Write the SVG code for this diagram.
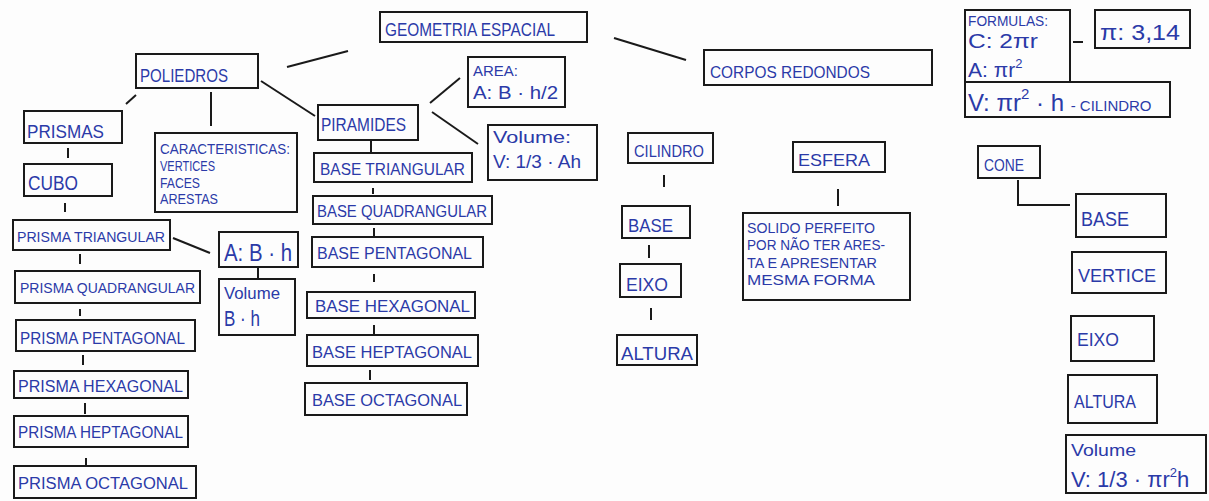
<svg xmlns="http://www.w3.org/2000/svg" width="1209" height="501" viewBox="0 0 1209 501">
<style>
.b{fill:none;stroke:#1a1a1a;stroke-width:2}
.c{stroke:#1a1a1a;stroke-width:2;fill:none}
text{font-family:"Liberation Sans","DejaVu Sans",sans-serif;fill:#2b3aa8}
</style>
<rect width="1209" height="501" fill="#fdfdfd"/>
<g id="connectors">
<line class="c" x1="287" y1="67" x2="348" y2="51"/>
<line class="c" x1="614" y1="38" x2="686" y2="60"/>
<line class="c" x1="136" y1="95" x2="126" y2="104" stroke-width="3"/>
<line class="c" x1="211" y1="92" x2="211" y2="126"/>
<line class="c" x1="261" y1="81" x2="315" y2="116"/>
<line class="c" x1="430" y1="103" x2="460" y2="78" stroke-width="3"/>
<line class="c" x1="432" y1="112" x2="478" y2="144"/>
<line class="c" x1="664" y1="175" x2="664" y2="187"/>
<line class="c" x1="649" y1="245" x2="649" y2="258"/>
<line class="c" x1="651" y1="308" x2="651" y2="320"/>
<line class="c" x1="838" y1="189" x2="838" y2="206"/>
<line class="c" x1="1073" y1="42" x2="1083" y2="42"/>
<polyline class="c" points="1018,180 1018,205 1070,205"/>
<line class="c" x1="68" y1="148" x2="68" y2="158"/>
<line class="c" x1="65" y1="203" x2="65" y2="212"/>
<line class="c" x1="173" y1="238" x2="210" y2="253"/>
<line class="c" x1="258" y1="267" x2="258" y2="279"/>
<line class="c" x1="80" y1="254" x2="80" y2="264"/>
<line class="c" x1="80" y1="309" x2="80" y2="316"/>
<line class="c" x1="83" y1="355" x2="83" y2="365"/>
<line class="c" x1="85" y1="403" x2="85" y2="414"/>
<line class="c" x1="86" y1="458" x2="86" y2="466"/>
<line class="c" x1="371" y1="141" x2="371" y2="152"/>
<line class="c" x1="373" y1="188" x2="373" y2="194"/>
<line class="c" x1="374" y1="228" x2="374" y2="236"/>
<line class="c" x1="374" y1="274" x2="374" y2="282"/>
<line class="c" x1="374" y1="325" x2="374" y2="334"/>
<line class="c" x1="370" y1="370" x2="370" y2="380"/>
</g>
<g id="geometria"><rect class="b" x="380" y="12" width="207" height="30"/><text x="385" y="36" font-size="18" textLength="170" lengthAdjust="spacingAndGlyphs">GEOMETRIA ESPACIAL</text></g>
<g id="poliedros"><rect class="b" x="136" y="54" width="122" height="34"/><text x="140" y="82" font-size="19" textLength="88" lengthAdjust="spacingAndGlyphs">POLIEDROS</text></g>
<g id="corpos"><rect class="b" x="704" y="50" width="228" height="35"/><text x="710" y="78" font-size="17" textLength="160" lengthAdjust="spacingAndGlyphs">CORPOS REDONDOS</text></g>
<g id="prismas"><rect class="b" x="24" y="111" width="98" height="32"/><text x="27" y="138" font-size="19" textLength="77" lengthAdjust="spacingAndGlyphs">PRISMAS</text></g>
<g id="cubo"><rect class="b" x="24" y="164" width="88" height="32"/><text x="28" y="190" font-size="20" textLength="50" lengthAdjust="spacingAndGlyphs">CUBO</text></g>
<g id="caracteristicas"><rect class="b" x="155" y="133" width="142" height="79"/>
<text x="160" y="154" font-size="14" textLength="130" lengthAdjust="spacingAndGlyphs">CARACTERISTICAS:</text>
<text x="160" y="171" font-size="14" textLength="55" lengthAdjust="spacingAndGlyphs">VERTICES</text>
<text x="160" y="188" font-size="14" textLength="40" lengthAdjust="spacingAndGlyphs">FACES</text>
<text x="160" y="204" font-size="14" textLength="58" lengthAdjust="spacingAndGlyphs">ARESTAS</text></g>
<g id="piramides"><rect class="b" x="318" y="105" width="100" height="35"/><text x="321" y="131" font-size="18" textLength="85" lengthAdjust="spacingAndGlyphs">PIRAMIDES</text></g>
<g id="area"><rect class="b" x="468" y="57" width="97" height="50"/>
<text x="473" y="76" font-size="15" textLength="45" lengthAdjust="spacingAndGlyphs">AREA:</text>
<text x="473" y="99" font-size="19" textLength="85" lengthAdjust="spacingAndGlyphs">A: B · h/2</text></g>
<g id="volume-piramide"><rect class="b" x="488" y="125" width="109" height="55"/>
<text x="493" y="143" font-size="16" textLength="78" lengthAdjust="spacingAndGlyphs">Volume:</text>
<text x="493" y="168" font-size="19" textLength="88" lengthAdjust="spacingAndGlyphs">V: 1/3 · Ah</text></g>
<g id="cilindro"><rect class="b" x="628" y="133" width="85" height="30"/><text x="634" y="157" font-size="16" textLength="70" lengthAdjust="spacingAndGlyphs">CILINDRO</text></g>
<g id="cil-base"><rect class="b" x="622" y="206" width="68" height="32"/><text x="628" y="232" font-size="19" textLength="45" lengthAdjust="spacingAndGlyphs">BASE</text></g>
<g id="cil-eixo"><rect class="b" x="620" y="264" width="61" height="33"/><text x="626" y="291" font-size="18" textLength="42" lengthAdjust="spacingAndGlyphs">EIXO</text></g>
<g id="cil-altura"><rect class="b" x="617" y="335" width="80" height="30"/><text x="621" y="360" font-size="18" textLength="72" lengthAdjust="spacingAndGlyphs">ALTURA</text></g>
<g id="esfera"><rect class="b" x="793" y="142" width="92" height="30"/><text x="798" y="166" font-size="17" textLength="72" lengthAdjust="spacingAndGlyphs">ESFERA</text></g>
<g id="solido"><rect class="b" x="743" y="213" width="167" height="87"/>
<text x="747" y="233" font-size="14" textLength="128" lengthAdjust="spacingAndGlyphs">SOLIDO PERFEITO</text>
<text x="747" y="250" font-size="14" textLength="138" lengthAdjust="spacingAndGlyphs">POR NÃO TER ARES-</text>
<text x="747" y="268" font-size="14" textLength="130" lengthAdjust="spacingAndGlyphs">TA E APRESENTAR</text>
<text x="747" y="285" font-size="14" textLength="128" lengthAdjust="spacingAndGlyphs">MESMA FORMA</text></g>
<g id="formulas"><rect class="b" x="965" y="10" width="105" height="72"/><rect class="b" x="965" y="82" width="205" height="35"/>
<text x="968" y="26" font-size="14" textLength="80" lengthAdjust="spacingAndGlyphs">FORMULAS:</text>
<text x="968" y="48" font-size="20" textLength="70" lengthAdjust="spacingAndGlyphs">C: 2πr</text>
<text x="968" y="77" font-size="21">A: πr<tspan font-size="13" dy="-9">2</tspan></text>
<text x="968" y="111" font-size="24">V: πr<tspan font-size="15" dy="-12">2</tspan><tspan dy="12"> · h </tspan><tspan font-size="15">- CILINDRO</tspan></text></g>
<g id="pi"><rect class="b" x="1095" y="10" width="95" height="38"/><text x="1100" y="40" font-size="22" textLength="80" lengthAdjust="spacingAndGlyphs">π: 3,14</text></g>
<g id="cone"><rect class="b" x="978" y="146" width="62" height="32"/><text x="984" y="171" font-size="17" textLength="40" lengthAdjust="spacingAndGlyphs">CONE</text></g>
<g id="cone-base"><rect class="b" x="1076" y="194" width="90" height="43"/><text x="1081" y="226" font-size="21" textLength="48" lengthAdjust="spacingAndGlyphs">BASE</text></g>
<g id="cone-vertice"><rect class="b" x="1072" y="252" width="94" height="41"/><text x="1078" y="282" font-size="18" textLength="78" lengthAdjust="spacingAndGlyphs">VERTICE</text></g>
<g id="cone-eixo"><rect class="b" x="1071" y="316" width="83" height="45"/><text x="1077" y="346" font-size="18" textLength="42" lengthAdjust="spacingAndGlyphs">EIXO</text></g>
<g id="cone-altura"><rect class="b" x="1068" y="375" width="89" height="48"/><text x="1074" y="408" font-size="19" textLength="62" lengthAdjust="spacingAndGlyphs">ALTURA</text></g>
<g id="cone-volume"><rect class="b" x="1066" y="435" width="140" height="58"/>
<text x="1071" y="456" font-size="17" textLength="65" lengthAdjust="spacingAndGlyphs">Volume</text>
<text x="1071" y="487" font-size="22">V: 1/3 · πr<tspan font-size="13" dy="-10">2</tspan><tspan dy="10">h</tspan></text></g>
<g id="prisma-triangular"><rect class="b" x="13" y="220" width="157" height="30"/><text x="17" y="242" font-size="15" textLength="148" lengthAdjust="spacingAndGlyphs">PRISMA TRIANGULAR</text></g>
<g id="area-prisma"><rect class="b" x="219" y="232" width="79" height="35"/><text x="224" y="261" font-size="23" textLength="68" lengthAdjust="spacingAndGlyphs">A: B · h</text></g>
<g id="volume-prisma"><rect class="b" x="219" y="279" width="76" height="56"/>
<text x="224" y="299" font-size="17" textLength="56" lengthAdjust="spacingAndGlyphs">Volume</text>
<text x="224" y="326" font-size="22" textLength="36" lengthAdjust="spacingAndGlyphs">B · h</text></g>
<g id="prisma-quadrangular"><rect class="b" x="15" y="271" width="185" height="32"/><text x="20" y="293" font-size="15" textLength="175" lengthAdjust="spacingAndGlyphs">PRISMA QUADRANGULAR</text></g>
<g id="prisma-pentagonal"><rect class="b" x="16" y="320" width="179" height="31"/><text x="20" y="344" font-size="16" textLength="165" lengthAdjust="spacingAndGlyphs">PRISMA PENTAGONAL</text></g>
<g id="prisma-hexagonal"><rect class="b" x="14" y="371" width="174" height="27"/><text x="18" y="392" font-size="16" textLength="165" lengthAdjust="spacingAndGlyphs">PRISMA HEXAGONAL</text></g>
<g id="prisma-heptagonal"><rect class="b" x="14" y="416" width="174" height="31"/><text x="18" y="438" font-size="16" textLength="165" lengthAdjust="spacingAndGlyphs">PRISMA HEPTAGONAL</text></g>
<g id="prisma-octagonal"><rect class="b" x="14" y="466" width="182" height="32"/><text x="18" y="489" font-size="16" textLength="170" lengthAdjust="spacingAndGlyphs">PRISMA OCTAGONAL</text></g>
<g id="base-triangular"><rect class="b" x="314" y="153" width="158" height="29"/><text x="320" y="175" font-size="16" textLength="145" lengthAdjust="spacingAndGlyphs">BASE TRIANGULAR</text></g>
<g id="base-quadrangular"><rect class="b" x="313" y="196" width="179" height="28"/><text x="317" y="217" font-size="16" textLength="170" lengthAdjust="spacingAndGlyphs">BASE QUADRANGULAR</text></g>
<g id="base-pentagonal"><rect class="b" x="312" y="237" width="171" height="30"/><text x="317" y="259" font-size="16" textLength="155" lengthAdjust="spacingAndGlyphs">BASE PENTAGONAL</text></g>
<g id="base-hexagonal"><rect class="b" x="307" y="292" width="168" height="26"/><text x="315" y="312" font-size="16" textLength="155" lengthAdjust="spacingAndGlyphs">BASE HEXAGONAL</text></g>
<g id="base-heptagonal"><rect class="b" x="307" y="335" width="171" height="31"/><text x="312" y="358" font-size="16" textLength="160" lengthAdjust="spacingAndGlyphs">BASE HEPTAGONAL</text></g>
<g id="base-octagonal"><rect class="b" x="305" y="383" width="162" height="32"/><text x="312" y="406" font-size="16" textLength="150" lengthAdjust="spacingAndGlyphs">BASE OCTAGONAL</text></g>
</svg>
